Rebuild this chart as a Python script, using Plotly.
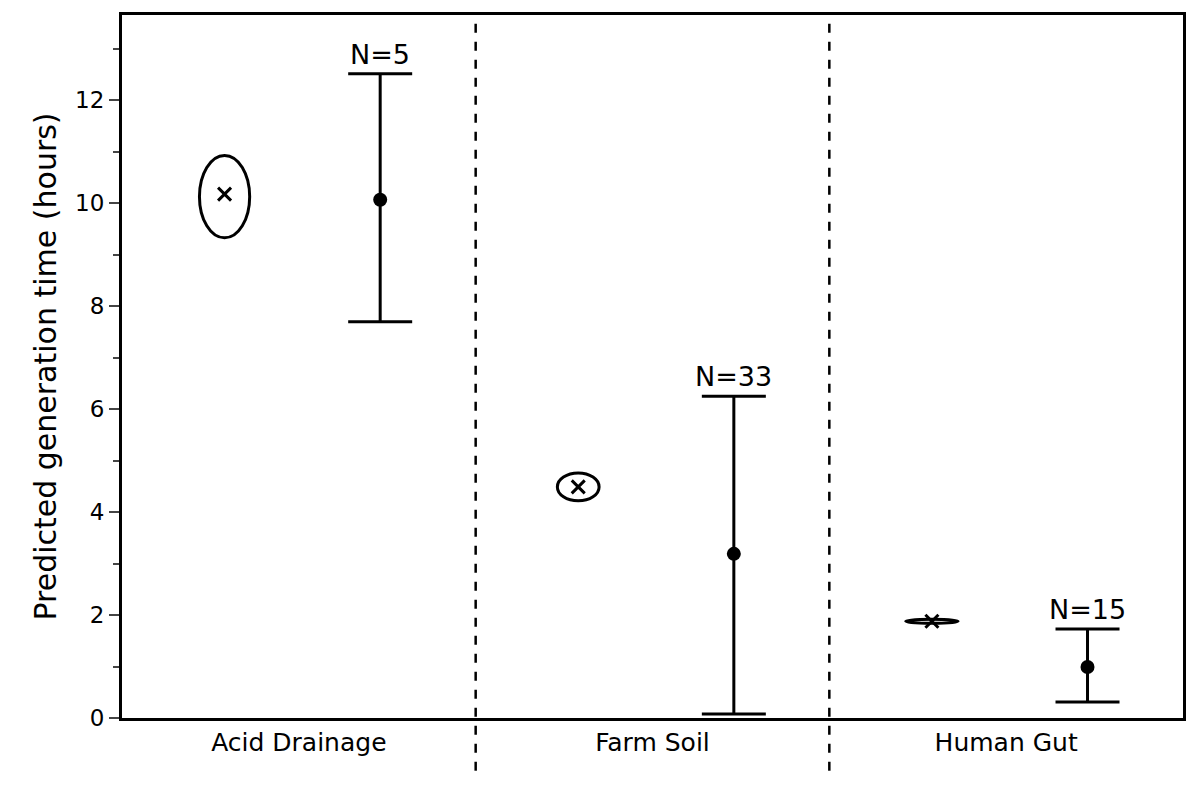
import plotly.graph_objects as go

categories = ["Acid Drainage", "Farm Soil", "Human Gut"]
predicted = [10.18, 4.49, 1.88]
ellipse_lo = [9.33, 4.22, 1.84]
ellipse_hi = [10.93, 4.76, 1.92]
observed = [10.07, 3.19, 0.99]
obs_hi = [12.52, 6.25, 1.73]
obs_lo = [7.70, 0.08, 0.31]
n_labels = ["N=5", "N=33", "N=15"]

idx = list(range(len(categories)))
xp = [i - 0.21 for i in idx]
xo = [i + 0.23 for i in idx]
ell_hw = [0.071, 0.059, 0.074]

fig = go.Figure()
fig.add_trace(go.Scatter(x=xp, y=predicted, mode="markers",
    marker=dict(symbol="x-thin", size=13, line=dict(width=3, color="black")),
    showlegend=False))
fig.add_trace(go.Scatter(x=xo, y=observed, mode="markers",
    marker=dict(symbol="circle", size=14, color="black"),
    error_y=dict(type="data", symmetric=False,
                 array=[h - o for h, o in zip(obs_hi, observed)],
                 arrayminus=[o - l for o, l in zip(observed, obs_lo)],
                 width=32, thickness=3, color="black"),
    showlegend=False))
for i in idx:
    fig.add_shape(type="circle", xref="x", yref="y",
                  x0=xp[i] - ell_hw[i], x1=xp[i] + ell_hw[i],
                  y0=ellipse_lo[i], y1=ellipse_hi[i],
                  line=dict(color="black", width=3))
    fig.add_annotation(x=xo[i], y=obs_hi[i], text=n_labels[i], showarrow=False,
                       yanchor="bottom", yshift=2, font=dict(size=27, color="black"))
for b in [0.5, 1.5]:
    fig.add_shape(type="line", xref="x", yref="paper", x0=b, x1=b, y0=-0.075, y1=1,
                  line=dict(color="black", width=2.5, dash="dash"))

fig.update_layout(
    width=1182, height=784, plot_bgcolor="white", paper_bgcolor="white",
    margin=dict(l=114, r=7, t=4, b=74),
    font=dict(family="DejaVu Sans", color="black"),
    xaxis=dict(range=[-0.5, 2.5], tickvals=idx, ticktext=categories,
               showgrid=False, zeroline=False, ticks="", tickfont=dict(size=25),
               showline=True, linecolor="black", linewidth=3, mirror=True),
    yaxis=dict(range=[0, 13.66], tickvals=[0, 2, 4, 6, 8, 10, 12],
               showgrid=False, zeroline=False, ticks="outside", ticklen=10,
               tickwidth=2, tickfont=dict(size=23),
               minor=dict(dtick=1, ticks="outside", ticklen=6, tickwidth=2, tick0=0),
               showline=True, linecolor="black", linewidth=3, mirror=True,
               title=dict(text="Predicted generation time (hours)", font=dict(size=30), standoff=10)),
)
fig.write_html("out.html")
